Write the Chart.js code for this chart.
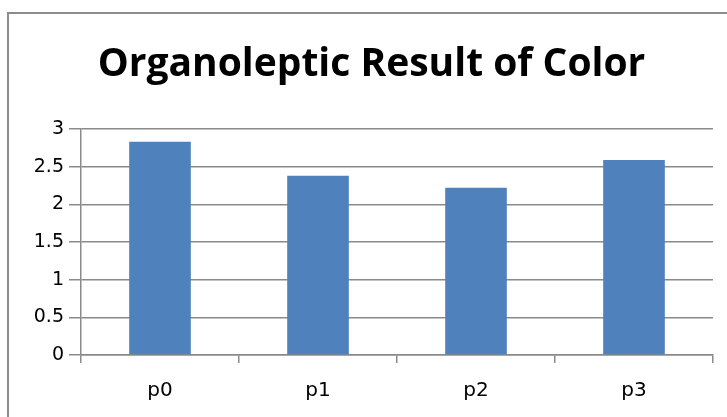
<!DOCTYPE html>
<html>
<head>
<meta charset="utf-8">
<script src="https://cdn.jsdelivr.net/npm/chart.js@4/dist/chart.umd.min.js"></script>
<style>
  html, body { margin: 0; padding: 0; background: #fff; overflow: hidden; }
  #wrap { position: relative; width: 727px; height: 417px; }
  #frame { position: absolute; left: 7px; top: 12px; width: 760px; height: 460px;
           border: 2px solid #8c8c8c; box-sizing: border-box; pointer-events: none; }
  canvas { position: absolute; left: 0; top: 0; }
</style>
</head>
<body>
<div id="wrap">
  <canvas id="chart" width="727" height="417"></canvas>
  <div id="frame"></div>
</div>
<script>
// Mean organoleptic colour score per sample
const categories = ['p0', 'p1', 'p2', 'p3'];
const colorScores = [2.83, 2.38, 2.22, 2.59];
const yTicks = [0, 0.5, 1, 1.5, 2, 2.5, 3];

const TITLE_FONT = '"Open Sans", "Liberation Sans", sans-serif';
const TICK_FONT = '"DejaVu Sans", sans-serif';
const GRID = '#8a8a8a';

new Chart(document.getElementById('chart'), {
  type: 'bar',
  data: {
    labels: categories,
    datasets: [{
      label: 'Color',
      data: colorScores,
      backgroundColor: '#4f81bd',
      borderWidth: 0,
      categoryPercentage: 1,
      barPercentage: 0.39
    }]
  },
  options: {
    responsive: false,
    animation: false,
    layout: { padding: { left: 30, right: 14, top: 0, bottom: 0 } },
    plugins: {
      legend: { display: false },
      tooltip: { enabled: false },
      title: {
        display: true,
        text: 'Organoleptic Result of Color',
        color: '#000',
        font: { family: TITLE_FONT, size: 39, weight: 'bold', lineHeight: 1.2 },
        padding: { top: 41, bottom: 41.2 }
      }
    },
    scales: {
      x: {
        grid: { display: true, drawOnChartArea: false, offset: true,
                color: GRID, lineWidth: 1.5, tickLength: 8 },
        border: { display: true, color: GRID, width: 1.5 },
        ticks: { color: '#000', font: { family: TICK_FONT, size: 20 }, padding: 16, maxRotation: 0 },
        afterFit: s => { s.height = 62; }
      },
      y: {
        min: 0, max: 3,
        afterBuildTicks: s => { s.ticks = yTicks.map(v => ({ value: v })); },
        grid: { color: GRID, lineWidth: 1.5, tickLength: 12 },
        border: { display: true, color: GRID, width: 1.5 },
        ticks: { color: '#000', font: { family: TICK_FONT, size: 19 }, padding: 5,
                 callback: v => String(v) },
        afterFit: s => { s.width = 51; }
      }
    }
  }
});
</script>
</body>
</html>
